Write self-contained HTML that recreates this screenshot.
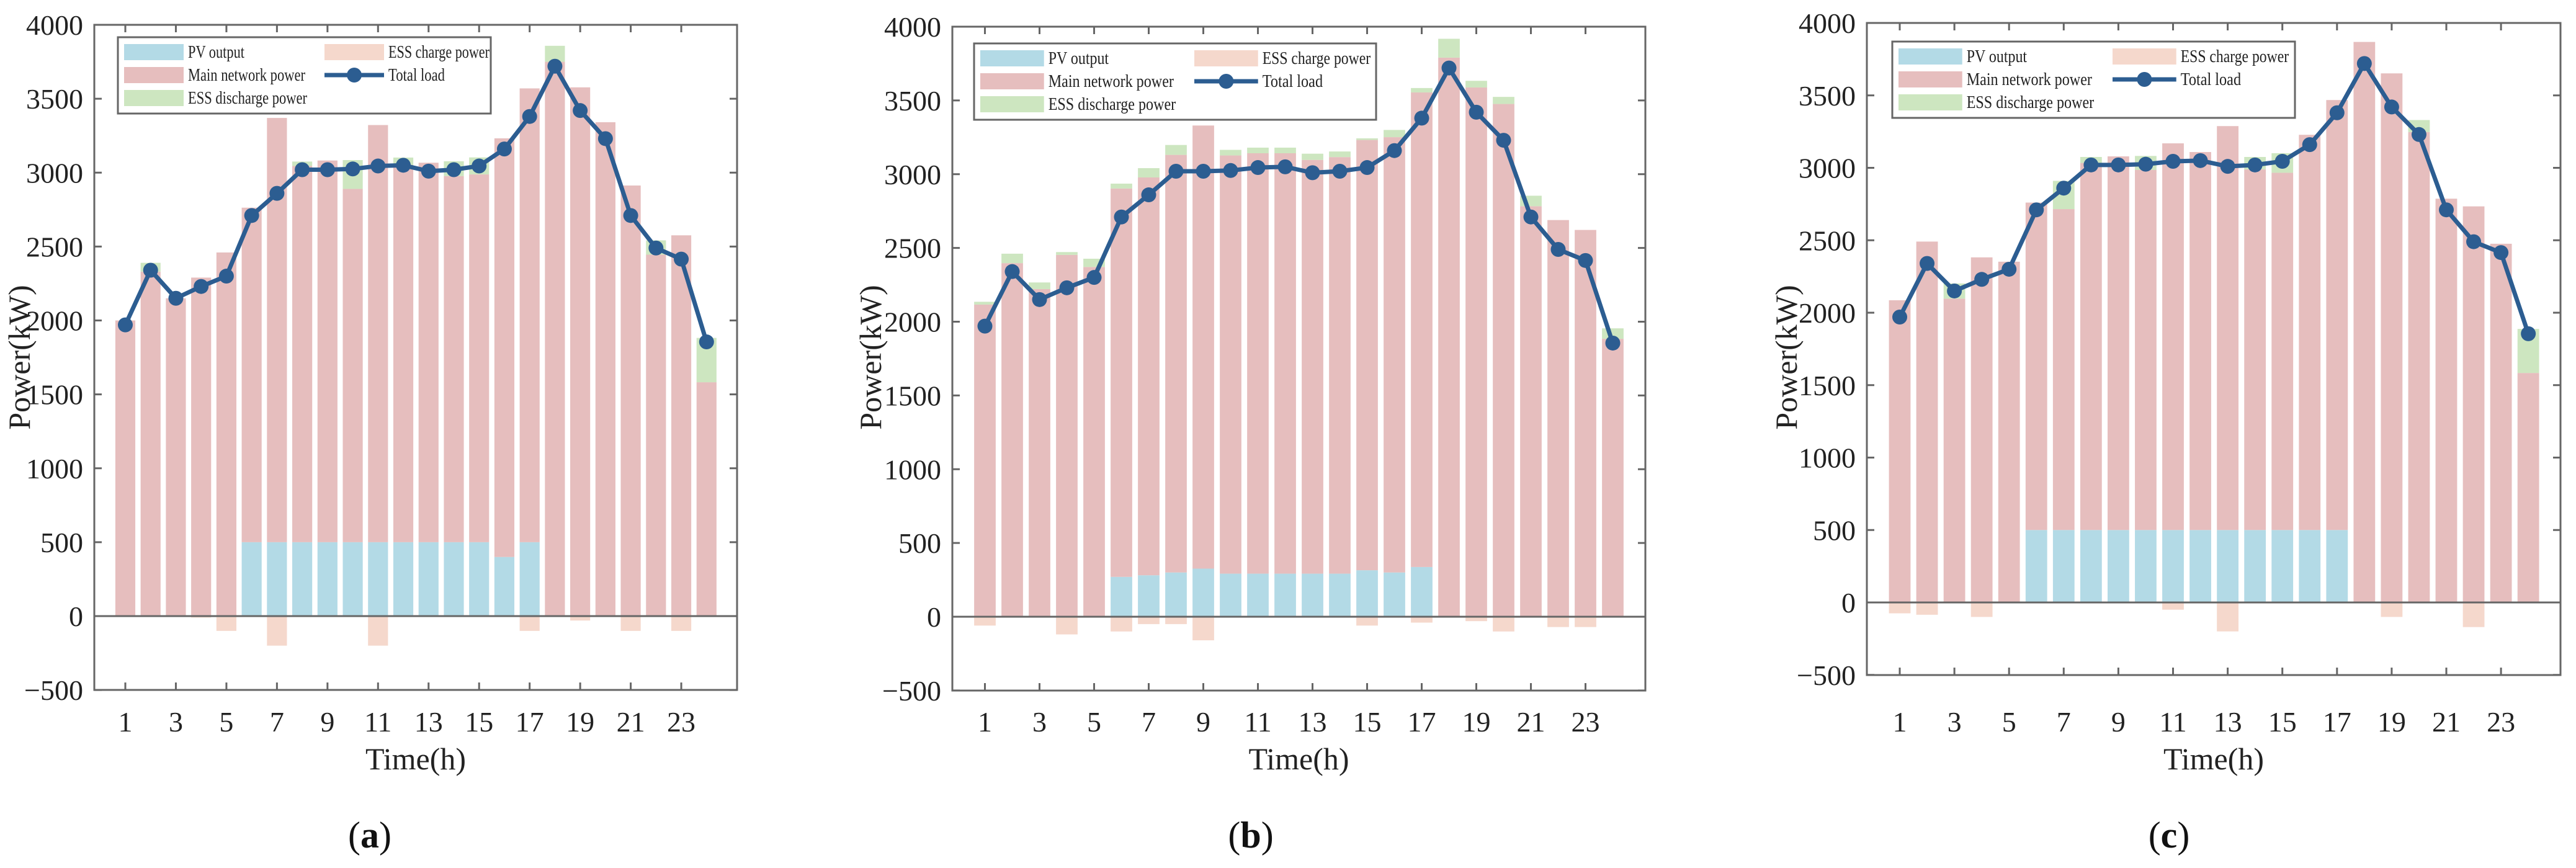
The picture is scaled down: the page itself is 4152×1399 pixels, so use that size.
<!DOCTYPE html>
<html><head><meta charset="utf-8"><style>
html,body{margin:0;padding:0;background:#fff;}
svg{display:block;font-family:"Liberation Serif",serif;}
</style></head><body>
<svg id="fig" width="4152" height="1399" viewBox="0 0 4152 1399" xmlns="http://www.w3.org/2000/svg"></svg>
<script>
const hours = [1,2,3,4,5,6,7,8,9,10,11,12,13,14,15,16,17,18,19,20,21,22,23,24];
const xTickLabels = ["1","3","5","7","9","11","13","15","17","19","21","23"];
const yTickValues = [-500,0,500,1000,1500,2000,2500,3000,3500,4000];
const totalLoad = [1970,2340,2150,2230,2300,2710,2860,3020,3020,3025,3045,3050,3010,3020,3045,3160,3380,3720,3420,3230,2710,2490,2415,1855];

const pvA = [0,0,0,0,0,500,500,500,500,500,500,500,500,500,500,400,500,0,0,0,0,0,0,0];
const mainA = [2000,2330,2150,2290,2460,2263,2870,2545,2582,2390,2822,2552,2567,2477,2488,2832,3070,3750,3577,3341,2913,2445,2576,1582];
const disA = [0,60,0,0,0,0,0,30,0,195,0,50,0,100,115,0,0,108,0,0,0,97,0,300];
const chA = [0,0,0,-10,-100,0,-200,0,0,0,-200,0,0,0,0,0,-100,0,-30,0,-100,0,-100,0];

const pvB = [0,0,0,0,0,270,281,300,326,292,292,292,292,292,315,300,337,0,0,0,0,0,0,0];
const mainB = [2116,2397,2221,2453,2371,2633,2697,2831,3004,2835,2850,2850,2805,2824,2917,2951,3217,3790,3588,3476,2783,2689,2622,1884];
const disB = [19,64,45,19,56,33,63,67,0,38,38,38,42,38,11,49,30,128,45,48,71,0,0,71];
const chB = [-60,0,0,-120,0,-100,-50,-50,-160,0,0,0,0,0,-60,0,-40,0,-30,-100,0,-70,-70,0];

const pvC = [0,0,0,0,0,500,500,500,500,500,500,500,500,500,500,500,500,0,0,0,0,0,0,0];
const mainC = [2086,2491,2097,2382,2352,2260,2215,2534,2579,2485,2669,2609,2788,2489,2466,2728,2968,3869,3652,3247,2787,2734,2476,1584];
const disC = [0,0,105,0,0,0,195,41,0,97,0,0,0,86,135,0,0,0,0,83,0,0,0,304];
const chC = [-75,-85,0,-100,0,0,0,0,0,0,-50,0,-200,0,0,0,0,0,-100,0,0,-170,0,0];

const NS = "http://www.w3.org/2000/svg";
const svg = document.getElementById("fig");
const C_PV="#b3dae6", C_MAIN="#e6bebe", C_DIS="#cde6c0", C_CH="#f5d8cc", C_LINE="#2c5d91", C_AX="#666";

function mk(tag, attrs, parent){const e=document.createElementNS(NS,tag);for(const k in attrs)e.setAttribute(k,attrs[k]);(parent||svg).appendChild(e);return e;}

function drawPanel(p, pv, main, dis, ch, letter){
  const g = mk("g",{});
  
  
  const y = v => p.y0 - v * (p.y0 - p.yTop) / 4000;
  const x = h => p.x1 + (h - 1) * p.dx;
  const bw = p.dx * 0.79;
  hours.forEach((h,i)=>{
    const cx = x(h);
    const segs = [
      [0, pv[i], C_PV, 'pv-bar'],
      [pv[i], pv[i]+main[i], C_MAIN, 'main-network-bar'],
      [pv[i]+main[i], pv[i]+main[i]+dis[i], C_DIS, 'ess-discharge-bar'],
      [ch[i], 0, C_CH, 'ess-charge-bar']
    ];
    segs.forEach(s=>{
      if (s[1]-s[0] <= 0) return;
      const r = mk("rect",{x:cx-bw/2,y:y(s[1]),width:bw,height:y(s[0])-y(s[1]),fill:s[2]},g);
      
      
    });
  });
  const zl = mk("line",{x1:p.left,x2:p.right,y1:y(0),y2:y(0),stroke:C_AX,"stroke-width":3},g);
  
  
  const fr = mk("rect",{x:p.left,y:p.yTop,width:p.right-p.left,height:p.yBot-p.yTop,fill:"none",stroke:C_AX,"stroke-width":3},g);
  
  
  yTickValues.forEach(v=>{
    const yy = y(v);
    mk("line",{x1:p.left,x2:p.left+12,y1:yy,y2:yy,stroke:C_AX,"stroke-width":3},g);
    mk("line",{x1:p.right,x2:p.right-12,y1:yy,y2:yy,stroke:C_AX,"stroke-width":3},g);
    const t = mk("text",{x:p.left-18,y:yy+16,"text-anchor":"end","font-size":46,fill:"#222"},g);
    t.textContent = v < 0 ? "\u2212" + Math.abs(v) : String(v);
    
    
  });
  xTickLabels.forEach(lab=>{
    const xx = x(Number(lab));
    mk("line",{x1:xx,x2:xx,y1:p.yBot,y2:p.yBot-12,stroke:C_AX,"stroke-width":3},g);
    mk("line",{x1:xx,x2:xx,y1:p.yTop,y2:p.yTop+12,stroke:C_AX,"stroke-width":3},g);
    const t = mk("text",{x:xx,y:1179,"text-anchor":"middle","font-size":46,fill:"#222"},g);
    t.textContent = lab;
    
    
  });
  const pts = totalLoad.map((v,i)=>x(hours[i])+","+y(v)).join(" ");
  const pl = mk("polyline",{points:pts,fill:"none",stroke:C_LINE,"stroke-width":7,"stroke-linejoin":"round"},g);
  
  
  totalLoad.forEach((v,i)=>{
    const c = mk("circle",{cx:x(hours[i]),cy:y(v),r:12,fill:C_LINE},g);
    
    
  });
  const L = p.leg, s = L.s;
  const lg = mk("g",{},g);
  
  
  mk("rect",{x:L.x,y:L.y,width:L.w,height:123,fill:"#fff",stroke:C_AX,"stroke-width":3},lg);
  const items = [
    [0,0,C_PV,"PV output",91],[0,1,C_MAIN,"Main network power",189],[0,2,C_DIS,"ESS discharge power",192],
    [1,0,C_CH,"ESS charge power",163],[1,1,null,"Total load",91]
  ];
  items.forEach(it=>{
    const sx = L.x + 10 + it[0]*L.col2;
    const sy = L.y + 11 + it[1]*37;
    const sw = 96*s;
    if (it[2]) mk("rect",{x:sx,y:sy,width:sw,height:26,fill:it[2]},lg);
    else { mk("line",{x1:sx,x2:sx+sw,y1:sy+13,y2:sy+13,stroke:C_LINE,"stroke-width":7},lg); mk("circle",{cx:sx+sw/2,cy:sy+13,r:12,fill:C_LINE},lg); }
    const t = mk("text",{x:sx+sw+7,y:sy+22,"font-size":29,fill:"#222",textLength:it[4]*s,lengthAdjust:"spacingAndGlyphs"},lg);
    t.textContent = it[3];
    
    
  });
  const xt = mk("text",{x:(p.left+p.right)/2,y:1240,"text-anchor":"middle","font-size":50,fill:"#222"},g);
  xt.textContent = "Time(h)";
  
  
  const yt = mk("text",{x:0,y:0,"text-anchor":"middle","font-size":50,fill:"#222",transform:`translate(${p.ytx},576) rotate(-90)`},g);
  yt.textContent = "Power(kW)";
  
  
  const lt = mk("text",{x:p.labX,y:1366,"text-anchor":"middle","font-size":60,fill:"#111"},g);
  lt.innerHTML = '(<tspan font-weight="bold">' + letter + '</tspan>)';
  
  
}

drawPanel({left:152,right:1188,yTop:40,yBot:1112,y0:993,x1:202,dx:40.73,ytx:48,labX:596,
  leg:{x:190,y:60,w:601,col2:323,s:1}}, pvA, mainA, disA, chA, "a");
drawPanel({left:1535,right:2652,yTop:43,yBot:1113,y0:994,x1:1587.5,dx:44.0,ytx:1420,labX:2016,
  leg:{x:1570,y:70,w:648,col2:345,s:1.07}}, pvB, mainB, disB, chB, "b");
drawPanel({left:3009,right:4127,yTop:37,yBot:1088,y0:971,x1:3062,dx:44.05,ytx:2896,labX:3496,
  leg:{x:3050,y:67,w:649,col2:345,s:1.07}}, pvC, mainC, disC, chC, "c");
</script>
</body></html>
